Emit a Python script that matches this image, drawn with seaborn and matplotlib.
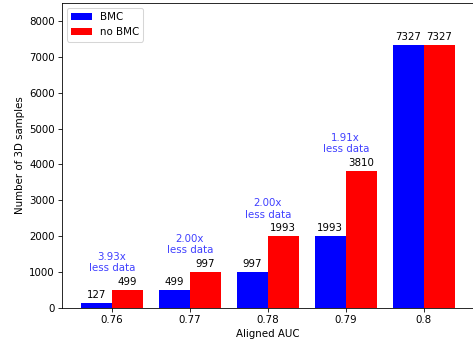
import matplotlib
matplotlib.use("Agg")
import matplotlib.pyplot as plt
import seaborn as sns
import pandas as pd

# Aligned AUC levels and number of 3D samples needed with / without BMC
auc_levels = ["0.76", "0.77", "0.78", "0.79", "0.8"]
bmc_samples = [127, 499, 997, 1993, 7327]
no_bmc_samples = [499, 997, 1993, 3810, 7327]
ratio_labels = ["3.93x\nless data", "2.00x\nless data", "2.00x\nless data",
                "1.91x\nless data", None]
methods = ["BMC", "no BMC"]

df = pd.DataFrame({
    "auc": auc_levels * 2,
    "samples": bmc_samples + no_bmc_samples,
    "method": [methods[0]] * len(auc_levels) + [methods[1]] * len(auc_levels),
})

fig = plt.figure(figsize=(6.4, 345 / 74), dpi=74)
ax = fig.add_axes([62 / 474, 37 / 345, 412 / 474, 305 / 345])

sns.barplot(data=df, x="auc", y="samples", hue="method", order=auc_levels,
            hue_order=methods, palette={"BMC": "blue", "no BMC": "red"},
            saturation=1, errorbar=None, width=0.8, ax=ax)

for cont in ax.containers:
    ax.bar_label(cont, padding=3, fontsize=10)

for i, (lbl, val) in enumerate(zip(ratio_labels, no_bmc_samples)):
    if lbl:
        ax.text(i, val + 470, lbl, ha="center", va="bottom",
                color="blue", alpha=0.75, fontsize=10)

ax.set_xlim(-0.64, 4.64)
ax.set_ylim(0, 8500)
ax.set_yticks(range(0, 8001, 1000))
ax.set_xlabel("Aligned AUC")
ax.set_ylabel("Number of 3D samples")
ax.legend(loc="upper left", title=None)

fig.savefig("out.png", dpi=74)
